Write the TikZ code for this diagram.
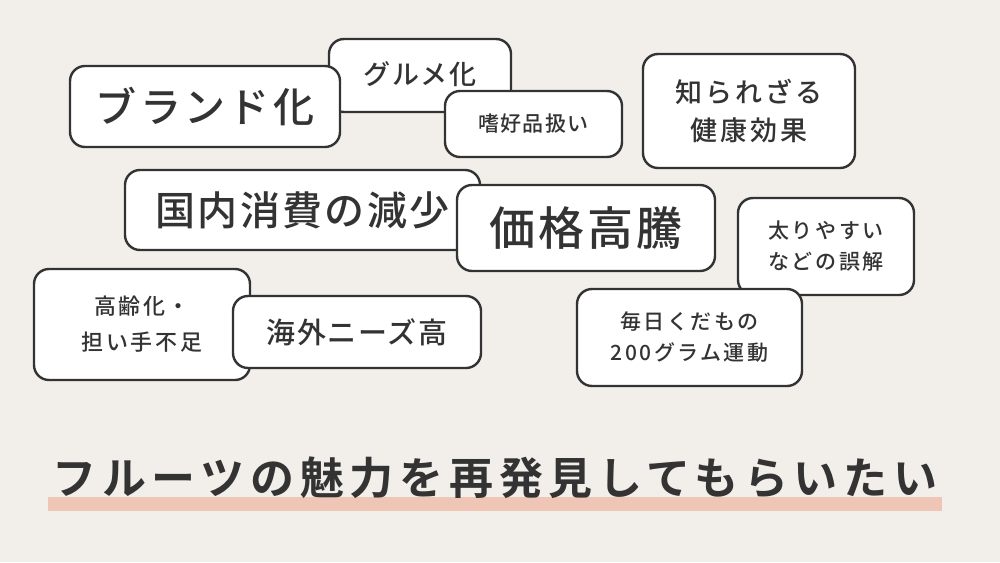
\documentclass[tikz,border=0pt]{standalone}
\usepackage{fontspec}
\setmainfont{Noto Sans CJK JP}[UprightFont=* Medium, BoldFont=* Bold, LetterSpace=6]
\newfontfamily\wide{Noto Sans CJK JP}[UprightFont=* Medium, BoldFont=* Bold, LetterSpace=12]
\definecolor{bgc}{HTML}{F2EEEA}
\definecolor{ink}{HTML}{333333}
\definecolor{barc}{HTML}{EFC6B6}
\tikzset{
  tag/.style={draw=ink, line width=2.4pt, rounded corners=15pt, fill=white,
    text=ink, align=center, inner sep=0pt},
}
\begin{document}
\begin{tikzpicture}[x=1pt,y=-1pt]
\fill[bgc] (0,0) rectangle (1000,562);
\useasboundingbox (0,0) rectangle (1000,562);
% top-left cluster
\node[tag, minimum width=182pt, minimum height=73pt, text depth=4pt, font=\fontsize{27}{30}\selectfont] (gourmet) at (420,75.5) {グルメ化};
\node[tag, minimum width=270pt, minimum height=81pt, font=\fontsize{41}{44}\addfontfeature{LetterSpace=8}\selectfont] (brand) at (205,106.5) {ブランド化};
\node[tag, minimum width=177pt, minimum height=66pt, font=\fontsize{21}{24}\selectfont] (shikou) at (533.5,124) {嗜好品扱い};
\node[tag, minimum width=212pt, minimum height=114pt, font=\wide\fontsize{27}{38}\selectfont] (kenko) at (749,111) {知られざる\\健康効果};
% middle
\node[tag, minimum width=355pt, minimum height=80pt, font=\fontsize{40}{44}\selectfont] (kokunai) at (302.5,210) {国内消費の減少};
\node[tag, minimum width=258pt, minimum height=86pt, font=\fontsize{46}{50}\selectfont] (kakaku) at (586,228) {価格高騰};
\node[tag, minimum width=176pt, minimum height=97pt, font=\wide\fontsize{21}{31}\selectfont] (futori) at (826,246.5) {太りやすい\\などの誤解};
\node[tag, minimum width=225pt, minimum height=97pt, font=\wide\fontsize{21}{31}\selectfont] (mainichi) at (689.5,337.5) {毎日くだもの\\200グラム運動};
% bottom-left
\node[tag, minimum width=216pt, minimum height=111pt, font=\wide\fontsize{22}{36}\selectfont] (koreika) at (142,324.5) {高齢化・\\担い手不足};
\node[tag, minimum width=248pt, minimum height=72pt, font=\fontsize{29}{30}\selectfont] (kaigai) at (357,332) {海外ニーズ高};
% title
\fill[barc] (48,497) rectangle (942,511);
\node[text=ink, font=\bfseries\fontsize{44}{48}\addfontfeature{LetterSpace=13}\selectfont, inner sep=0pt] (title) at (495,478) {フルーツの魅力を再発見してもらいたい};
\end{tikzpicture}
\end{document}
